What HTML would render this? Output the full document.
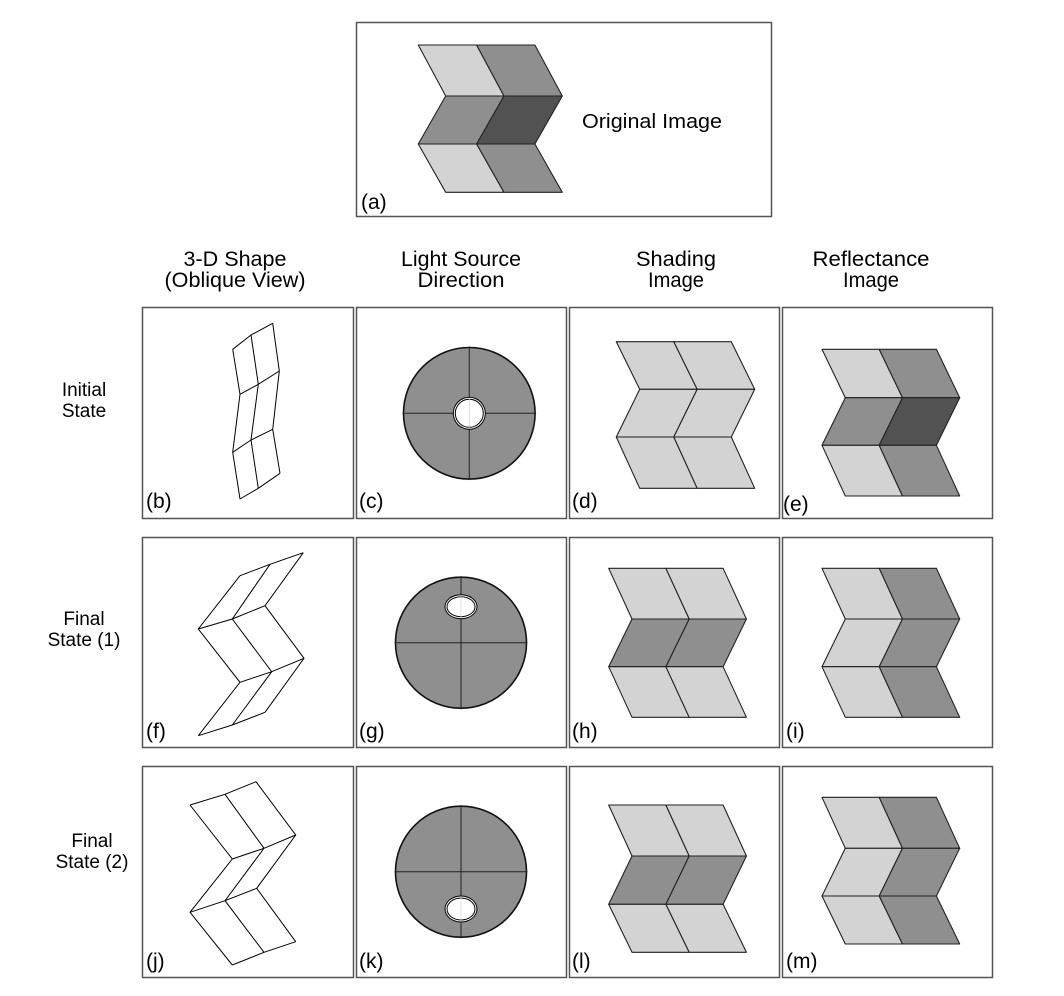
<!DOCTYPE html>
<html><head><meta charset="utf-8"><style>
html,body{margin:0;padding:0;background:#fff;}
svg{display:block;}
text{font-family:"Liberation Sans",Arial,sans-serif;font-size:21px;fill:#000;}
.r{font-size:19px;}
</style></head><body>
<svg id="s" width="1064" height="996" viewBox="0 0 1064 996" xmlns="http://www.w3.org/2000/svg">
<rect width="1064" height="996" fill="#fff"/>
<g fill="none" stroke="#555" stroke-width="1.5">
<rect x="356.5" y="22.5" width="415" height="194"/>
<rect x="142.5" y="307.5" width="211" height="211"/>
<rect x="356.5" y="307.5" width="210" height="211"/>
<rect x="569.5" y="307.5" width="210" height="211"/>
<rect x="782.5" y="307.5" width="210" height="211"/>
<rect x="142.5" y="537.5" width="211" height="210"/>
<rect x="356.5" y="537.5" width="210" height="210"/>
<rect x="569.5" y="537.5" width="210" height="210"/>
<rect x="782.5" y="537.5" width="210" height="210"/>
<rect x="142.5" y="766.5" width="211" height="211"/>
<rect x="356.5" y="766.5" width="210" height="211"/>
<rect x="569.5" y="766.5" width="210" height="211"/>
<rect x="782.5" y="766.5" width="210" height="211"/>
</g>
<g id="shapes"></g>
<text x="582" y="128" style="font-size:20.5px" textLength="140" lengthAdjust="spacingAndGlyphs">Original Image</text>
<text x="361" y="209">(a)</text>
<g text-anchor="middle">
<text x="235" y="266" textLength="103" lengthAdjust="spacingAndGlyphs">3-D Shape</text><text x="235" y="287" textLength="141" lengthAdjust="spacingAndGlyphs">(Oblique View)</text>
<text x="461" y="266" textLength="120" lengthAdjust="spacingAndGlyphs">Light Source</text><text x="461" y="287" textLength="87" lengthAdjust="spacingAndGlyphs">Direction</text>
<text x="676" y="266" textLength="80" lengthAdjust="spacingAndGlyphs">Shading</text><text x="676" y="287" textLength="56" lengthAdjust="spacingAndGlyphs">Image</text>
<text x="871" y="266" textLength="117" lengthAdjust="spacingAndGlyphs">Reflectance</text><text x="871" y="287" textLength="56" lengthAdjust="spacingAndGlyphs">Image</text>
<text class="r" x="84" y="396">Initial</text><text class="r" x="84" y="417">State</text>
<text class="r" x="84" y="625">Final</text><text class="r" x="84" y="646">State (1)</text>
<text class="r" x="92" y="847">Final</text><text class="r" x="92" y="868">State (2)</text>
</g>
<text x="146" y="508">(b)</text><text x="359" y="508">(c)</text><text x="572" y="508">(d)</text><text x="783" y="511">(e)</text>
<text x="146" y="738">(f)</text><text x="359" y="738">(g)</text><text x="572" y="738">(h)</text><text x="786" y="738">(i)</text>
<text x="146" y="968">(j)</text><text x="359" y="968">(k)</text><text x="572" y="968">(l)</text><text x="786" y="968">(m)</text>
</svg>
<script>
var NS="http://www.w3.org/2000/svg",G=document.getElementById("shapes");
function el(t,a){var e=document.createElementNS(NS,t);for(var k in a)e.setAttribute(k,a[k]);G.appendChild(e);return e;}
var L="#d3d3d3",M="#8f8f8f",D="#525252";
function chev(x0,w,s,ys,cols){
 function P(r,c){return [x0+c*w+(r%2?s:0),ys[r]];}
 for(var r=0;r<3;r++)for(var c=0;c<2;c++){
  var pts=[P(r,c),P(r,c+1),P(r+1,c+1),P(r+1,c)].map(function(p){return p[0].toFixed(1)+","+p[1].toFixed(1)}).join(" ");
  el("polygon",{points:pts,fill:cols[r][c],stroke:"#222","stroke-width":"1.1","stroke-linejoin":"round"});
 }
}
chev(418.3,58.3,27.4,[45,96,144,192.3],[[L,M],[M,D],[L,M]]);
chev(616.3,57.5,23.4,[341.7,389.3,437,488.3],[[L,L],[L,L],[L,L]]);
chev(822,57.2,23.3,[349.3,397.7,445.3,496],[[L,M],[M,D],[L,M]]);
chev(608.7,57.2,23.3,[568.3,619,666.7,717.3],[[L,L],[M,M],[L,L]]);
chev(822,57.2,23.3,[568.3,619,666.7,717.3],[[L,M],[L,M],[L,M]]);
chev(608.7,57.2,23.3,[805,856,904.3,952.3],[[L,L],[M,M],[L,L]]);
chev(822,57.2,23.3,[797.3,848.3,896,944],[[L,M],[L,M],[L,M]]);
function wire(g){
 var d="";
 for(var r=0;r<4;r++)d+="M"+g[r].map(function(p){return p.join(",")}).join("L");
 for(var c=0;c<3;c++)d+="M"+[0,1,2,3].map(function(r){return g[r][c].join(",")}).join("L");
 el("path",{d:d,fill:"none",stroke:"#000","stroke-width":"1"});
}
wire([[[232.7,349.3],[251,335],[272.7,323.3]],[[240,394.3],[258.3,384.3],[279.3,371]],[[232.7,452.3],[251,440],[272.7,429.3]],[[240,499],[258.3,488.3],[280,473.3]]]);
wire([[[240,575.7],[270,564.3],[303.3,552.7]],[[198.3,629],[232.3,619],[265,605.7]],[[240,682.3],[271.7,671.7],[304,658.3]],[[198.3,735.7],[232.3,725],[265,712.3]]]);
wire([[[190,805],[225,794.3],[256,781.7]],[[232.3,859],[264,848.3],[295.7,835]],[[190,912.3],[225,900.7],[256.7,888.3]],[[232.3,965],[264,952.3],[295.7,941.7]]]);
function globe(cx,cy,r,lx,ly,rx,ry){
 el("circle",{cx:cx,cy:cy,r:r,fill:"#8f8f8f",stroke:"#111","stroke-width":"1.6"});
 el("path",{d:"M"+(cx-r-1)+","+cy+"H"+(cx+r+1)+"M"+cx+","+(cy-r-1)+"V"+(cy+r+1),stroke:"#222","stroke-width":"1",fill:"none"});
 el("ellipse",{cx:lx,cy:ly,rx:rx+1.5,ry:ry+1.5,fill:"#000"});
 el("ellipse",{cx:lx,cy:ly,rx:rx+0.5,ry:ry+0.5,fill:"#fff"});
 el("ellipse",{cx:lx,cy:ly,rx:rx-1,ry:ry-1,fill:"#fff",stroke:"#000","stroke-width":"1"});
 el("path",{d:"M"+lx+","+(ly-ry)+"V"+(ly+ry),stroke:"#ccc","stroke-width":"0.6"});
}
globe(469.3,413.3,65.8,469.3,413.3,15,15);
globe(461,642.7,65.5,461,606.7,15,11);
globe(461,871.7,65.5,461,909,15,12);
</script>
</body></html>
